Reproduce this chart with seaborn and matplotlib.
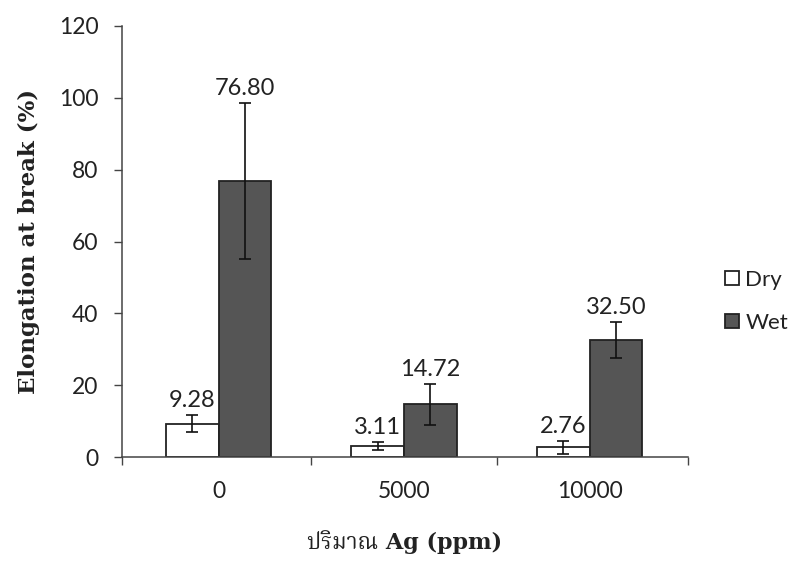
import matplotlib
matplotlib.use('Agg')
import pandas as pd
import matplotlib.pyplot as plt
import seaborn as sns
from matplotlib.ticker import FixedLocator

# data
ag_levels = ['0', '5000', '10000']
dry_mean = [9.28, 3.11, 2.76]
dry_err = [2.4, 1.2, 1.8]
wet_mean = [76.80, 14.72, 32.50]
wet_err = [21.8, 5.7, 5.0]

df = pd.DataFrame({
    'ag': ag_levels * 2,
    'value': dry_mean + wet_mean,
    'err': dry_err + wet_err,
    'cond': ['Dry'] * 3 + ['Wet'] * 3,
})

sns.set_style('white')
plt.rcParams['font.family'] = ['Lato', 'DejaVu Sans']

fig = plt.figure(figsize=(7.98, 5.61), dpi=100)
ax = fig.add_axes([0.153, 0.185, 0.709, 0.769])

sns.barplot(data=df, x='ag', y='value', hue='cond', order=ag_levels,
            palette={'Dry': 'white', 'Wet': '#555555'}, width=0.57,
            edgecolor='#222222', linewidth=1.3, errorbar=None, ax=ax)

# error bars + value labels on top of each bar
for cont, cond in zip(ax.containers, ['Dry', 'Wet']):
    sub = df[df['cond'] == cond].set_index('ag').loc[ag_levels]
    for bar, val, err in zip(cont, sub['value'], sub['err']):
        xc = bar.get_x() + bar.get_width() / 2
        ax.errorbar(xc, val, yerr=err, fmt='none', ecolor='#111111',
                    elinewidth=1.2, capsize=4, capthick=1.2)
        ax.annotate(f'{val:.2f}', (xc, val + err), xytext=(0, 3),
                    textcoords='offset points', ha='center', va='bottom',
                    fontsize=17, color='#222222')

ax.set_ylim(0, 120)
ax.set_xlim(-0.52, 2.53)
ax.set_yticks(range(0, 121, 20))
ax.tick_params(axis='y', direction='out', length=6, width=1, color='#444444',
               labelsize=16.5, labelcolor='#222222', left=True, pad=11)
ax.tick_params(axis='x', which='major', length=0, labelsize=16.5,
               labelcolor='#222222', pad=17)
ax.xaxis.set_minor_locator(FixedLocator([-0.52, 0.5, 1.5, 2.53]))
ax.tick_params(axis='x', which='minor', direction='out', length=6, width=1,
               color='#444444', bottom=True)

sns.despine(ax=ax)
for s in ['left', 'bottom']:
    ax.spines[s].set_color('#444444')
    ax.spines[s].set_linewidth(1.1)

ax.set_ylabel('Elongation at break (%)', family=['DejaVu Serif'],
              fontweight='bold', fontsize=16.5, color='#222222')
ax.yaxis.set_label_coords(-0.145, 0.5)
ax.set_xlabel('ปริมาณ Ag (ppm)', family=['DejaVu Serif', 'Noto Serif Thai'],
              fontweight='bold', fontsize=16, color='#222222', labelpad=20)

handles, labels = ax.get_legend_handles_labels()
ax.get_legend().remove()
fig.legend(handles, labels, loc='center left', bbox_to_anchor=(0.895, 0.463),
           frameon=False, fontsize=16, handlelength=0.6, handleheight=0.6,
           handletextpad=0.3, labelspacing=1.05, borderpad=0,
           labelcolor='#222222')

fig.savefig('out.png', dpi=100)
